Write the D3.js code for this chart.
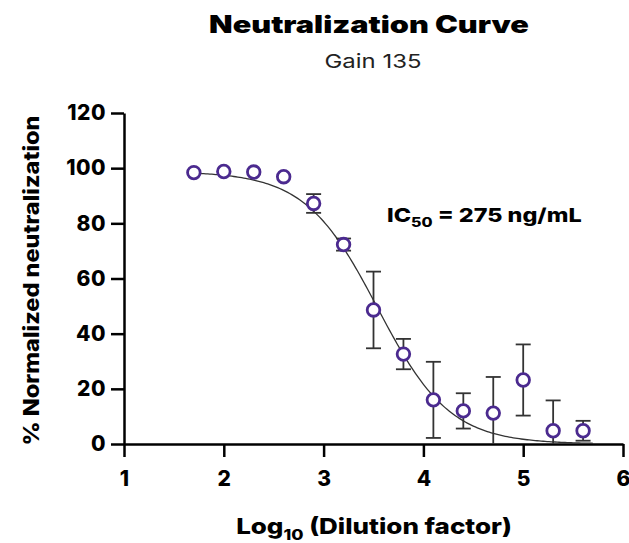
<!DOCTYPE html>
<html>
<head>
<meta charset="utf-8">
<script src="https://cdn.jsdelivr.net/npm/d3@7"></script>
<style>
body { margin: 0; background: #fff; }
text { font-family: Inter, "DejaVu Sans", sans-serif; }
</style>
</head>
<body>
<svg id="chart" width="629" height="543"></svg>
<script>
// log10 dilution factor
var logDil = [1.7, 2.0, 2.3, 2.6, 2.9, 3.2, 3.5, 3.8, 4.1, 4.4, 4.7, 5.0, 5.3, 5.6];
// % normalized neutralization (mean)
var neut = [98.4, 98.8, 98.6, 96.9, 87.2, 72.3, 48.6, 32.6, 16.0, 12.0, 11.2, 23.2, 4.8, 4.8];
// error (sd), 0 = no bar
var errs = [0, 0, 0, 0, 3.4, 2.2, 13.9, 5.5, 13.8, 6.4, 13.1, 12.9, 11.0, 3.6];
var xTicks = [1, 2, 3, 4, 5, 6];
var yTicks = [0, 20, 40, 60, 80, 100, 120];
// fitted 4PL curve params
var fitTop = 98.8, fitBottom = 0, fitLogIC50 = 3.54, fitHill = 1.2;
var fitRange = [1.7, 5.7];

var svg = d3.select("#chart");
var margin = {left: 124, right: 6, top: 113, bottom: 99};
var W = +svg.attr("width"), H = +svg.attr("height");

var x = d3.scaleLinear().domain([1, 6]).range([margin.left, W - margin.right]);
var y = d3.scaleLinear().domain([0, 120]).range([H - margin.bottom, margin.top]);

// stretch a text horizontally so it takes the wanted width (reference font is wider)
function stretchText(parent, tx, ty, wantW, anchor) {
    var g = parent.append("g");
    var t = g.append("text").attr("text-anchor", anchor);
    return {g: g, t: t, fit: function(){
        var w = t.node().getBBox().width;
        g.attr("transform", "translate(" + tx + "," + ty + ") scale(" + (wantW / w) + ",1)");
    }};
}

// title
var title = stretchText(svg, 369, 33, 320, "middle");
title.t.style("font-size", "24px").style("font-weight", "900").text("Neutralization Curve");
title.fit();
var sub = stretchText(svg, 373, 68, 97, "middle");
sub.t.style("font-size", "19px").style("fill", "#222").text("Gain 135");
sub.fit();

// axes
var xAxis = svg.append("g")
    .attr("transform", "translate(0," + y(0) + ")")
    .call(d3.axisBottom(x).tickValues(xTicks).tickFormat(d3.format("d"))
        .tickSize(13).tickSizeOuter(0).tickPadding(14));
var yAxis = svg.append("g")
    .attr("transform", "translate(" + x(1) + ",0)")
    .call(d3.axisLeft(y).tickValues(yTicks).tickFormat(d3.format("d"))
        .tickSize(13).tickSizeOuter(0).tickPadding(5));

[xAxis, yAxis].forEach(function(g){
    g.selectAll("path.domain").attr("stroke", "#000").attr("stroke-width", 2.5);
    g.selectAll(".tick line").attr("stroke", "#000").attr("stroke-width", 2.5);
    g.selectAll(".tick text")
        .style("font-family", "Inter, sans-serif")
        .style("font-size", "21px").style("font-weight", "800")
        .attr("fill", "#000");
});
yAxis.selectAll(".tick text").style("letter-spacing", "0.5px");

// axis titles
var xl = stretchText(svg, 374, 534, 276, "middle");
xl.t.style("font-size", "22px").style("font-weight", "800");
xl.t.append("tspan").text("Log");
xl.t.append("tspan").attr("dy", 6).style("font-size", "15px").text("10");
xl.t.append("tspan").attr("dy", -6).text(" (Dilution factor)");
xl.fit();

svg.append("text")
    .attr("transform", "translate(39," + ((y(0) + y(120)) / 2 + 2) + ") rotate(-90)")
    .attr("text-anchor", "middle")
    .attr("textLength", 330).attr("lengthAdjust", "spacingAndGlyphs")
    .style("font-size", "21px").style("font-weight", "800")
    .text("% Normalized neutralization");

// fitted curve
var curvePts = d3.range(fitRange[0], fitRange[1] + 0.001, 0.02).map(function(v){
    return [v, fitBottom + (fitTop - fitBottom) / (1 + Math.pow(10, (v - fitLogIC50) * fitHill))];
});
svg.append("path")
    .datum(curvePts)
    .attr("fill", "none")
    .attr("stroke", "#333")
    .attr("stroke-width", 1.3)
    .attr("d", d3.line().x(function(d){ return x(d[0]); }).y(function(d){ return y(d[1]); }));

// error bars
var data = logDil.map(function(v, i){ return {x: v, y: neut[i], e: errs[i]}; });
var eb = svg.append("g").selectAll("g").data(data.filter(function(d){ return d.e > 0; }))
    .enter().append("g").attr("stroke", "#333").attr("stroke-width", 1.8);
eb.append("line")
    .attr("x1", function(d){ return x(d.x); }).attr("x2", function(d){ return x(d.x); })
    .attr("y1", function(d){ return y(d.y + d.e); })
    .attr("y2", function(d){ return y(Math.max(0, d.y - d.e)); });
eb.append("line")
    .attr("x1", function(d){ return x(d.x) - 7.5; }).attr("x2", function(d){ return x(d.x) + 7.5; })
    .attr("y1", function(d){ return y(d.y + d.e); }).attr("y2", function(d){ return y(d.y + d.e); });
eb.filter(function(d){ return d.y - d.e > 0; }).append("line")
    .attr("x1", function(d){ return x(d.x) - 7.5; }).attr("x2", function(d){ return x(d.x) + 7.5; })
    .attr("y1", function(d){ return y(d.y - d.e); }).attr("y2", function(d){ return y(d.y - d.e); });

// points
svg.append("g").selectAll("circle").data(data).enter().append("circle")
    .attr("cx", function(d){ return x(d.x); })
    .attr("cy", function(d){ return y(d.y); })
    .attr("r", 6.3)
    .attr("fill", "#fff")
    .attr("stroke", "#4b2a8f")
    .attr("stroke-width", 2.8);

// IC50 annotation
var ic = stretchText(svg, 387, 222, 195, "start");
ic.t.style("font-size", "19px").style("font-weight", "800");
ic.t.append("tspan").text("IC");
ic.t.append("tspan").attr("dy", 5).style("font-size", "13px").text("50");
ic.t.append("tspan").attr("dy", -5).text(" = 275 ng/mL");
ic.fit();
</script>
</body>
</html>
